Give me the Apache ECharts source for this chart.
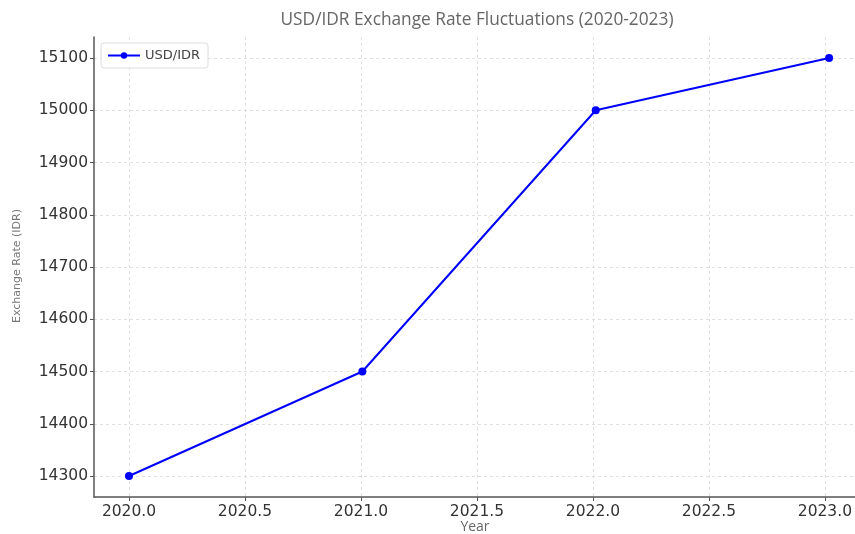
<!DOCTYPE html>
<html>
<head>
<meta charset="utf-8">
<script src="https://cdn.jsdelivr.net/npm/echarts@6/dist/echarts.min.js"></script>
<style>html,body{margin:0;padding:0;background:#fff;}#c{width:855px;height:534px;}</style>
</head>
<body>
<div id="c"></div>
<script>
const years = [2020, 2021, 2022, 2023];
const rates = [14300, 14500, 15000, 15100];
const seriesName = 'USD/IDR';
const titleText = 'USD/IDR Exchange Rate Fluctuations (2020-2023)';
const xAxisName = 'Year';
const yAxisName = 'Exchange Rate (IDR)';

const chart = echarts.init(document.getElementById('c'), null, {renderer: 'canvas'});
const tickFont = {fontFamily: 'DejaVu Sans', fontSize: 15.5, color: '#333'};
const gridLine = {show: true, lineStyle: {color: '#d9d9d9', type: [3, 3], width: 0.8}};
chart.setOption({
  animation: false,
  backgroundColor: '#fff',
  graphic: [
    {type: 'text', x: 477, y: 20,
     style: {text: titleText, font: '17.3px "Open Sans"', fill: '#666', align: 'center', verticalAlign: 'middle'}},
    {type: 'text', x: 475, y: 527,
     style: {text: xAxisName, font: '14px "Open Sans"', fill: '#666', align: 'center', verticalAlign: 'middle'}},
    {type: 'text', x: 17, y: 266, rotation: Math.PI / 2,
     style: {text: yAxisName, font: '11px "DejaVu Sans"', fill: '#777', align: 'center', verticalAlign: 'middle'}}
  ],
  legend: {
    data: [seriesName],
    left: 101, top: 43,
    padding: [6, 8, 6, 6], itemGap: 4,
    borderColor: '#ddd', borderWidth: 1, borderRadius: 3, backgroundColor: '#fff',
    itemWidth: 32, itemHeight: 8,
    textStyle: {fontFamily: 'DejaVu Sans', fontSize: 13, color: '#444'}
  },
  grid: [
    {left: 94, right: 0, top: 37, bottom: 37},   // frame / axis lines
    {left: 94, right: 0, top: 58, bottom: 58},   // y ticks + data
    {left: 129, right: 26, top: 37, bottom: 37}  // x ticks
  ],
  xAxis: [
    {gridIndex: 0, type: 'value', min: 0, max: 1,
     axisLine: {show: true, lineStyle: {color: '#555', width: 1.5}},
     axisTick: {show: false}, axisLabel: {show: false}, splitLine: {show: false}},
    {gridIndex: 1, type: 'value', min: 2019.85, max: 2023.111, show: false},
    {gridIndex: 2, type: 'value', min: 2020, max: 2023, interval: 0.5,
     axisLine: {show: false},
     axisTick: {show: true, length: 4, lineStyle: {color: '#555', width: 1}},
     axisLabel: Object.assign({margin: 7, formatter: v => v.toFixed(1)}, tickFont),
     splitLine: gridLine}
  ],
  yAxis: [
    {gridIndex: 0, type: 'value', min: 0, max: 1,
     axisLine: {show: true, lineStyle: {color: '#555', width: 1.5}},
     axisTick: {show: false}, axisLabel: {show: false}, splitLine: {show: false}},
    {gridIndex: 1, type: 'value', min: 14300, max: 15100, interval: 100,
     axisLine: {show: false},
     axisTick: {show: true, length: 4, lineStyle: {color: '#555', width: 1}},
     axisLabel: Object.assign({margin: 6, formatter: v => String(v)}, tickFont),
     splitLine: gridLine},
    {gridIndex: 2, type: 'value', min: 0, max: 1, show: false}
  ],
  series: [{
    name: seriesName, type: 'line', xAxisIndex: 1, yAxisIndex: 1,
    data: years.map((y, i) => [y, rates[i]]),
    lineStyle: {color: '#0000ff', width: 2},
    itemStyle: {color: '#0000ff'},
    symbol: 'circle', symbolSize: 8, showSymbol: true
  }]
});
</script>
</body>
</html>
